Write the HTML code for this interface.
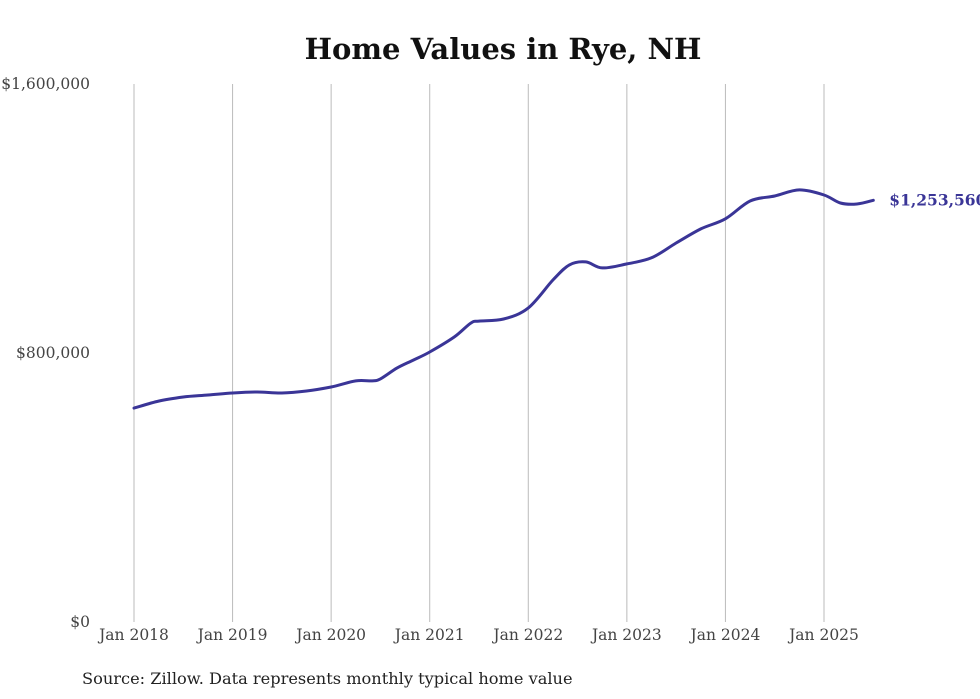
<!DOCTYPE html>
<html><head><meta charset="utf-8"><style>
html,body{margin:0;padding:0;background:#fff;}
svg{display:block;}
</style></head><body>
<svg width="980" height="699" viewBox="0 0 980 699" xmlns="http://www.w3.org/2000/svg">
<rect width="980" height="699" fill="#fff"/>
<text x="503" y="59" text-anchor="middle" font-family="'DejaVu Serif',serif" font-weight="bold" font-size="29" fill="#111">Home Values in Rye, NH</text>
<g id="grid"></g>
<g id="yaxis"></g>
<g id="xaxis"></g>
<g id="series"></g>
<text x="82" y="684" font-family="'DejaVu Serif',serif" font-size="16.2" fill="#222">Source: Zillow. Data represents monthly typical home value</text>
</svg>
<script>
// months since Jan 2018
const months = [0,3,6,9,12,15,18,21,24,27,29,30,32,34,36,39,41,42,45,48,51,53,55,57,60,63,66,69,72,75,78,81,84,86,88,90];
const values = [636000,657000,669000,675000,681000,684000,681000,687000,699000,717000,717000,723000,755000,779000,803000,848000,889000,895000,901000,934000,1017000,1062000,1071000,1053000,1065000,1083000,1127000,1169000,1199000,1252000,1267000,1285000,1270000,1246000,1243000,1254000];
const yTicks = [0,800000,1600000];
const yTickLabels = ["$0","$800,000","$1,600,000"];
const xTickMonths = [0,12,24,36,48,60,72,84];
const xTickLabels = ["Jan 2018","Jan 2019","Jan 2020","Jan 2021","Jan 2022","Jan 2023","Jan 2024","Jan 2025"];
const lastLabel = "$1,253,560";

const NS="http://www.w3.org/2000/svg";
const xS = m => 134 + m*(690/84);
const yS = v => 622 - v*(538/1600000);
function mk(tag, attrs, parent, text){const e=document.createElementNS(NS,tag);for(const k in attrs)e.setAttribute(k,attrs[k]);if(text!==undefined)e.textContent=text;document.getElementById(parent).appendChild(e);return e;}

xTickMonths.forEach((m,i)=>{
  const l=mk('line',{x1:xS(m),x2:xS(m),y1:84,y2:622,stroke:'#bbb','stroke-width':1},'grid');
  
  
  const t=mk('text',{x:xS(m),y:640,'text-anchor':'middle','font-family':"'DejaVu Serif',serif",'font-size':15.5,fill:'#444'},'xaxis',xTickLabels[i]);
  
  
});
yTicks.forEach((v,i)=>{
  const t=mk('text',{x:90,y:yS(v)+5,'text-anchor':'end','font-family':"'DejaVu Serif',serif",'font-size':15.5,fill:'#444'},'yaxis',yTickLabels[i]);
  
  
});
const pts = months.map((m,i)=>[xS(m),yS(values[i])]);
let d='M'+pts[0][0].toFixed(1)+','+pts[0][1].toFixed(1);
for(let i=0;i<pts.length-1;i++){
  const p0=pts[Math.max(0,i-1)],p1=pts[i],p2=pts[i+1],p3=pts[Math.min(pts.length-1,i+2)];
  const c1=[p1[0]+(p2[0]-p0[0])/6,p1[1]+(p2[1]-p0[1])/6];
  const c2=[p2[0]-(p3[0]-p1[0])/6,p2[1]-(p3[1]-p1[1])/6];
  d+=' C'+c1.map(n=>n.toFixed(1)).join(',')+' '+c2.map(n=>n.toFixed(1)).join(',')+' '+p2.map(n=>n.toFixed(1)).join(',');
}
const p=mk('path',{d:d,fill:'none',stroke:'#3a3597','stroke-width':3,'stroke-linejoin':'round','stroke-linecap':'round'},'series');


const li=months.length-1;
const lt=mk('text',{x:xS(months[li])+16,y:yS(values[li])+5,'font-family':"'DejaVu Serif',serif",'font-weight':'bold','font-size':15.5,fill:'#3a3597'},'series',lastLabel);


</script>
</body></html>
